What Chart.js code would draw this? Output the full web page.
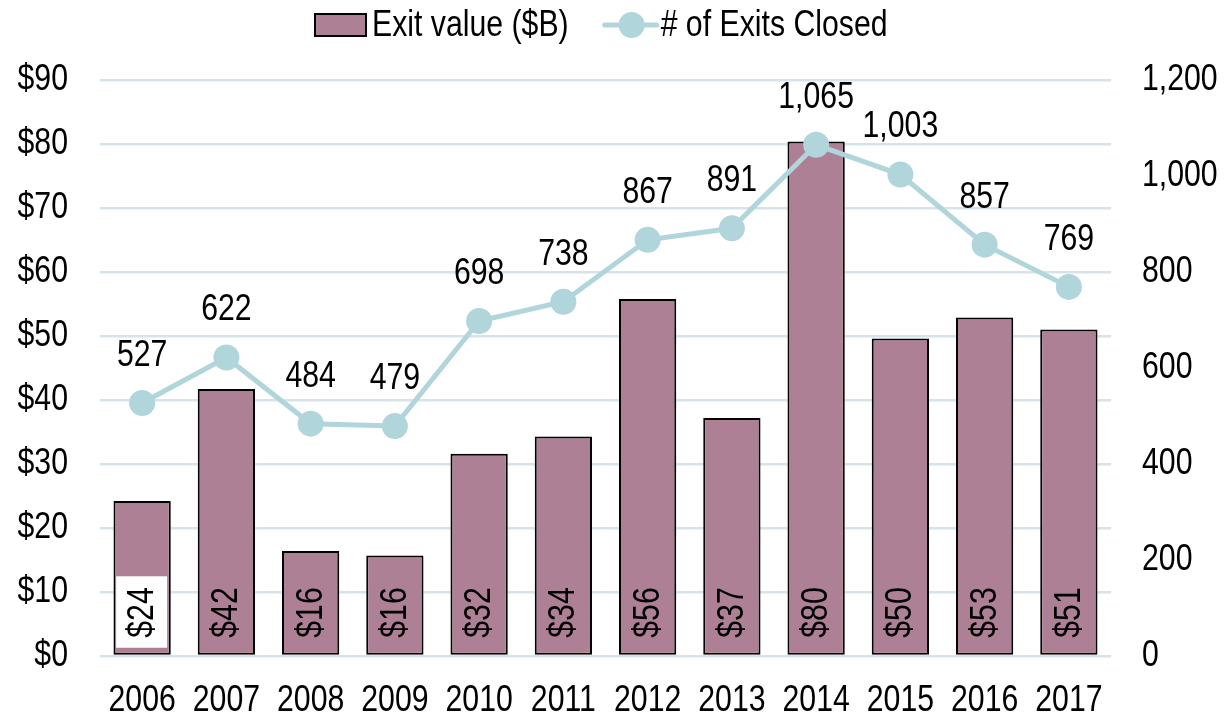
<!DOCTYPE html>
<html>
<head>
<meta charset="utf-8">
<script src="https://cdn.jsdelivr.net/npm/chart.js@4.4.0/dist/chart.umd.min.js"></script>
<style>
html,body{margin:0;padding:0;background:#fff;}
#wrap{width:1226px;height:720px;}
</style>
</head>
<body>
<div id="wrap"><canvas id="c" width="1226" height="720"></canvas></div>
<script>
const categories = ['2006','2007','2008','2009','2010','2011','2012','2013','2014','2015','2016','2017'];
const exitValue = [24.2, 41.7, 16.4, 15.7, 31.6, 34.3, 55.8, 37.2, 80.4, 49.6, 52.9, 51.0];
const exitValueLabels = ['$24','$42','$16','$16','$32','$34','$56','$37','$80','$50','$53','$51'];
const exitsClosed = [527, 622, 484, 479, 698, 738, 867, 891, 1065, 1003, 857, 769];
const leftTicks = [0,10,20,30,40,50,60,70,80,90];
const rightTicks = [0,200,400,600,800,1000,1200];

// The reference uses a condensed (Arial Narrow-like) face; emulate by narrowing text horizontally.
const SX = 0.84;
(function () {
  const p = CanvasRenderingContext2D.prototype;
  const oFill = p.fillText, oMeasure = p.measureText;
  p.fillText = function (t, x, y) {
    this.save();
    this.translate(x, y);
    this.scale(SX, 1);
    oFill.call(this, t, 0, 0);
    this.restore();
  };
  p.measureText = function (t) {
    const m = oMeasure.call(this, t);
    return {
      width: m.width * SX,
      actualBoundingBoxAscent: m.actualBoundingBoxAscent,
      actualBoundingBoxDescent: m.actualBoundingBoxDescent,
      actualBoundingBoxLeft: m.actualBoundingBoxLeft * SX,
      actualBoundingBoxRight: m.actualBoundingBoxRight * SX,
      fontBoundingBoxAscent: m.fontBoundingBoxAscent,
      fontBoundingBoxDescent: m.fontBoundingBoxDescent
    };
  };
})();

const FONT = '"Liberation Sans", Arial, sans-serif';
const FS = 36;
const BAR = '#ae8096';
const LINE = '#b0d5db';
const GRID = '#d7e3ea';

const fmt = v => v.toLocaleString('en-US');

const labelPlugin = {
  id: 'labels',
  afterDatasetsDraw(chart) {
    const ctx = chart.ctx;
    ctx.save();
    ctx.font = FS + 'px ' + FONT;
    ctx.fillStyle = '#000';
    const bm = chart.getDatasetMeta(0);
    bm.data.forEach((el, i) => {
      const txt = exitValueLabels[i];
      const w = ctx.measureText(txt).width;
      const base = el.base;
      const cx = el.x;
      const end = base - 17;
      const mid = end - w / 2;
      if (i === 0) {
        ctx.fillStyle = '#fff';
        ctx.fillRect(cx - 26, end - w - 11, 51, w + 21);
        ctx.fillStyle = '#000';
      }
      ctx.save();
      ctx.translate(cx, mid);
      ctx.rotate(-Math.PI / 2);
      ctx.textAlign = 'center';
      ctx.textBaseline = 'middle';
      ctx.fillText(txt, 0, 1);
      ctx.restore();
    });
    const lm = chart.getDatasetMeta(1);
    ctx.textAlign = 'center';
    ctx.textBaseline = 'middle';
    lm.data.forEach((el, i) => {
      ctx.fillText(fmt(exitsClosed[i]), el.x, el.y - 47);
    });
    ctx.restore();
  },
  afterDraw(chart) {
    const ctx = chart.ctx;
    ctx.save();
    ctx.font = FS + 'px ' + FONT;
    ctx.textBaseline = 'middle';
    ctx.textAlign = 'left';
    const y = 25;
    const t1 = 'Exit value ($B)';
    const t2 = '# of Exits Closed';
    const w1 = ctx.measureText(t1).width;
    let x = 315;
    ctx.fillStyle = BAR;
    ctx.fillRect(x, y - 11, 51, 22);
    ctx.strokeStyle = '#000';
    ctx.lineWidth = 2;
    ctx.strokeRect(x, y - 11, 51, 22);
    x += 57;
    ctx.fillStyle = '#000';
    ctx.fillText(t1, x, y + 1);
    x += w1 + 36;
    ctx.strokeStyle = LINE;
    ctx.lineWidth = 5;
    ctx.lineCap = 'round';
    ctx.beginPath(); ctx.moveTo(x, y); ctx.lineTo(x + 52, y); ctx.stroke();
    ctx.fillStyle = LINE;
    ctx.beginPath(); ctx.arc(x + 27, y, 13, 0, Math.PI * 2); ctx.fill();
    x += 56;
    ctx.fillStyle = '#000';
    ctx.fillText(t2, x, y + 1);
    ctx.restore();
  }
};

new Chart(document.getElementById('c'), {
  data: {
    labels: categories,
    datasets: [
      {
        type: 'bar',
        label: 'Exit value ($B)',
        data: exitValue,
        yAxisID: 'y',
        backgroundColor: BAR,
        borderColor: '#000',
        borderWidth: 2,
        borderSkipped: false,
        barPercentage: 0.68,
        categoryPercentage: 1.0,
        order: 2
      },
      {
        type: 'line',
        label: '# of Exits Closed',
        data: exitsClosed,
        yAxisID: 'y1',
        borderColor: LINE,
        backgroundColor: LINE,
        borderWidth: 5,
        pointRadius: 13,
        pointHoverRadius: 13,
        pointBorderWidth: 0,
        pointBackgroundColor: LINE,
        tension: 0,
        order: 1
      }
    ]
  },
  plugins: [labelPlugin],
  options: {
    responsive: false,
    animation: false,
    devicePixelRatio: 1,
    layout: { padding: { top: 80, left: 18, right: 8, bottom: 2 } },
    plugins: {
      legend: { display: false },
      tooltip: { enabled: false }
    },
    scales: {
      x: {
        grid: { display: false },
        border: { display: false },
        afterFit: ax => { ax.height = 62; },
        ticks: { color: '#000', font: { family: FONT, size: FS }, padding: 15, maxRotation: 0, autoSkip: false }
      },
      y: {
        position: 'left',
        min: 0, max: 90,
        afterBuildTicks: ax => { ax.ticks = leftTicks.map(v => ({ value: v })); },
        afterFit: ax => { ax.width = 82; },
        grid: { color: GRID, lineWidth: 2.5, drawTicks: false },
        border: { display: false },
        ticks: { color: '#000', font: { family: FONT, size: FS }, padding: 32, callback: v => '$' + v }
      },
      y1: {
        position: 'right',
        min: 0, max: 1200,
        afterBuildTicks: ax => { ax.ticks = rightTicks.map(v => ({ value: v })); },
        afterFit: ax => { ax.width = 107; },
        grid: { display: false, drawTicks: false },
        border: { display: false },
        ticks: { color: '#000', font: { family: FONT, size: FS }, padding: 31, callback: v => fmt(v) }
      }
    }
  }
});
</script>
</body>
</html>
